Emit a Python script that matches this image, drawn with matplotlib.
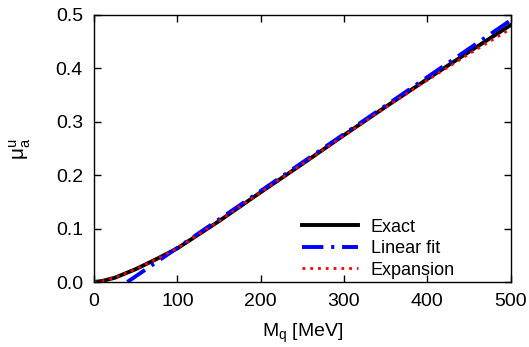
import matplotlib
matplotlib.use("Agg")
import matplotlib.pyplot as plt

plt.rcParams["font.family"] = ["Liberation Sans", "DejaVu Sans"]

# values
m_q = [0, 10, 25, 50, 75, 100, 150, 200, 250, 300, 350, 400, 450, 500]
exact = [0.0, 0.002, 0.008, 0.024, 0.043, 0.063, 0.114, 0.168, 0.221, 0.275,
         0.328, 0.380, 0.431, 0.481]
expansion = [0.0, 0.002, 0.008, 0.024, 0.043, 0.063, 0.114, 0.168, 0.221, 0.274,
             0.327, 0.378, 0.427, 0.474]
fit_x = [40, 500]
fit_y = [0.0, 0.490]

fig = plt.figure(figsize=(5.29, 3.47), dpi=100)
ax = fig.add_axes([0.1777, 0.1873, 0.7875, 0.7695])

ax.plot(m_q, exact, color="black", lw=2.8, label="Exact")
ax.plot(fit_x, fit_y, color="#0000ff", lw=2.8, dashes=(5.5, 2, 0.8, 2),
        label="Linear fit")
ax.plot(m_q, expansion, color="#ff0000", lw=2.0, ls=(0, (1, 1.8)),
        label="Expansion")

ax.set_xlim(0, 500)
ax.set_ylim(0, 0.5)
ax.set_xticks([0, 100, 200, 300, 400, 500])
ax.set_yticks([0.0, 0.1, 0.2, 0.3, 0.4, 0.5])
ax.set_yticklabels(["0.0", "0.1", "0.2", "0.3", "0.4", "0.5"])
ax.tick_params(direction="in", top=True, right=True, length=5, width=1,
               labelsize=14, pad=8)
for s in ax.spines.values():
    s.set_linewidth(1.0)

ax.set_xlabel(r"M$_\mathregular{q}$ [MeV]", fontsize=14, labelpad=8)
ax.set_ylabel(r"$\mathregular{\mu_a^u}$", fontsize=15, labelpad=16)

ax.legend(loc="lower left", frameon=False, fontsize=13, handlelength=3.1,
          handletextpad=0.72, labelspacing=0.25, borderaxespad=0,
          borderpad=0, bbox_to_anchor=(0.499, 0.013))

fig.savefig("out.png", dpi=100)
